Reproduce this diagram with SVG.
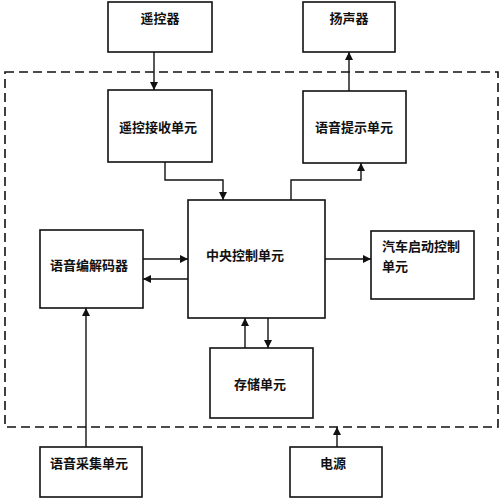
<svg xmlns="http://www.w3.org/2000/svg" width="502" height="498" viewBox="0 0 502 498">
<defs>
<marker id="ah" viewBox="0 0 10 10" refX="10" refY="5" markerWidth="8" markerHeight="8" markerUnits="userSpaceOnUse" orient="auto">
<path d="M0,0 L10,5 L0,10 z" fill="#111"/>
</marker>
</defs>
<style>
.box{fill:#fff;stroke:#111;stroke-width:1.6}
.t{font-family:"Noto Sans CJK SC","Noto Sans",sans-serif;font-size:13px;font-weight:bold;fill:#111}
.c{stroke:#111;stroke-width:1.4;fill:none;marker-end:url(#ah)}
.l{stroke:#111;stroke-width:1.4;fill:none}
.dash{fill:none;stroke:#111;stroke-width:1.6;stroke-dasharray:9,5}
</style>
<rect width="502" height="498" fill="#fff"/>
<rect class="dash" x="5" y="72" width="493" height="355"/>
<g id="connectors">
<path class="c" d="M154,52 V90"/>
<path class="c" d="M349,91 V52"/>
<path class="c" d="M165,162 V180 H223 V200"/>
<path class="c" d="M291,200 V180 H361 V163"/>
<path class="c" d="M143,259 H188"/>
<path class="c" d="M188,279 H143"/>
<path class="c" d="M325,259 H371"/>
<path class="c" d="M245,348 V318"/>
<path class="c" d="M268,318 V348"/>
<path class="c" d="M86,447 V308"/>
<path class="c" d="M337,447 V427"/>
</g>
<g id="remote"><rect class="box" x="108" y="2" width="104" height="50"/><text class="t" x="160" y="23" text-anchor="middle">遥控器</text></g>
<g id="speaker"><rect class="box" x="303" y="2" width="92" height="50"/><text class="t" x="349" y="23" text-anchor="middle">扬声器</text></g>
<g id="receiver"><rect class="box" x="108" y="90" width="104" height="72"/><text class="t" x="158" y="132" text-anchor="middle">遥控接收单元</text></g>
<g id="prompt"><rect class="box" x="303" y="91" width="103" height="72"/><text class="t" x="354" y="132" text-anchor="middle">语音提示单元</text></g>
<g id="cpu"><rect class="box" x="188" y="200" width="137" height="118"/><text class="t" x="245" y="260" text-anchor="middle">中央控制单元</text></g>
<g id="codec"><rect class="box" x="40" y="230" width="103" height="78"/><text class="t" x="89" y="270" text-anchor="middle">语音编解码器</text></g>
<g id="start"><rect class="box" x="371" y="231" width="103" height="68"/><text class="t" x="382" y="251">汽车启动控制</text><text class="t" x="382" y="271">单元</text></g>
<g id="storage"><rect class="box" x="210" y="348" width="103" height="70"/><text class="t" x="260" y="389" text-anchor="middle">存储单元</text></g>
<g id="mic"><rect class="box" x="40" y="447" width="102" height="50"/><text class="t" x="89" y="468" text-anchor="middle">语音采集单元</text></g>
<g id="power"><rect class="box" x="290" y="447" width="92" height="50"/><text class="t" x="333" y="468" text-anchor="middle">电源</text></g>
</svg>
